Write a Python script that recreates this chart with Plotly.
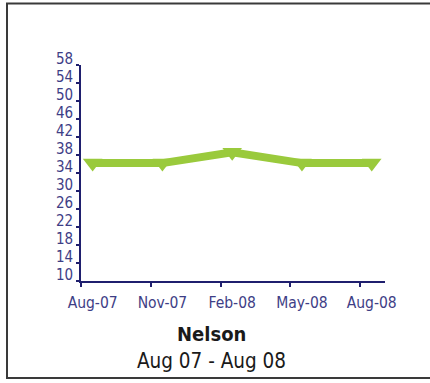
import plotly.graph_objects as go

# Monthly index (months since Aug-07) and readings
months = [0, 3, 6, 9, 12]
month_labels = ["Aug-07", "Nov-07", "Feb-08", "May-08", "Aug-08"]
values = [36.2, 36.2, 38.6, 36.2, 36.2]
y_ticks = list(range(10, 59, 4))
y_labels = [str(v) for v in y_ticks]
x_tick_marks = [-0.5, 2.5, 5.5, 8.5, 11.5]

title = "Nelson"
subtitle = "Aug 07 - Aug 08"

GREEN = "#9ACA3C"
NAVY = "#1F1F6E"
LABEL = "#3E3E86"
FONT = "DejaVu Sans Condensed, Liberation Sans Narrow, Arial Narrow, sans-serif"

W, H = 430, 383
L, R, T, B = 81, 45, 65, 102
pw, ph = W - L - R, H - T - B

fig = go.Figure()
fig.add_trace(go.Scatter(
    x=months, y=values, mode="lines+markers",
    line=dict(color=GREEN, width=8),
    marker=dict(symbol="triangle-down", size=17, color=GREEN),
    hoverinfo="skip", showlegend=False,
))

# value labels on the left, lifted slightly above their tick marks
annotations = [
    dict(text=lab, xref="paper", yref="y", x=(74 - L) / pw, y=v,
         xanchor="right", yanchor="middle", yshift=6.5, showarrow=False,
         borderpad=0, font=dict(family=FONT, size=15, color=LABEL))
    for v, lab in zip(y_ticks, y_labels)
]
annotations += [
    dict(text="<b>" + title + "</b>", xref="paper", yref="paper",
         x=(211 - L) / pw, y=(H - B - 334) / ph, xanchor="center", yanchor="middle",
         showarrow=False, font=dict(family=FONT, size=20, color="#1a1a1a")),
    dict(text=subtitle, xref="paper", yref="paper",
         x=(211 - L) / pw, y=(H - B - 361) / ph, xanchor="center", yanchor="middle",
         showarrow=False, font=dict(family=FONT, size=20.5, color="#1a1a1a")),
]

fig.update_layout(
    width=W, height=H,
    margin=dict(l=L, r=R, t=T, b=B),
    paper_bgcolor="white", plot_bgcolor="white",
    xaxis=dict(
        range=[-0.5, 12.57], tickmode="array", tickvals=months, ticktext=month_labels,
        ticks="", showgrid=False, zeroline=False,
        showline=True, linecolor=NAVY, linewidth=2,
        tickfont=dict(family=FONT, size=15.5, color=LABEL),
        ticklabelstandoff=6,
        minor=dict(tickmode="array", tickvals=x_tick_marks, ticks="outside",
                   ticklen=4, tickwidth=2, tickcolor=NAVY, showgrid=False),
    ),
    yaxis=dict(
        range=[10, 58], tickmode="array", tickvals=y_ticks,
        ticks="outside", ticklen=3, tickwidth=2, tickcolor=NAVY,
        showticklabels=False, showgrid=False, zeroline=False,
        showline=True, linecolor=NAVY, linewidth=2,
    ),
    shapes=[dict(
        type="rect", xref="paper", yref="paper",
        x0=(7 - L) / pw, x1=(445 - L) / pw,
        y0=(H - B - 378) / ph, y1=(H - B - 3.5) / ph,
        line=dict(color="#3a3a3a", width=2), fillcolor="rgba(0,0,0,0)", layer="below",
    )],
    annotations=annotations,
)

fig.write_html("out.html")
